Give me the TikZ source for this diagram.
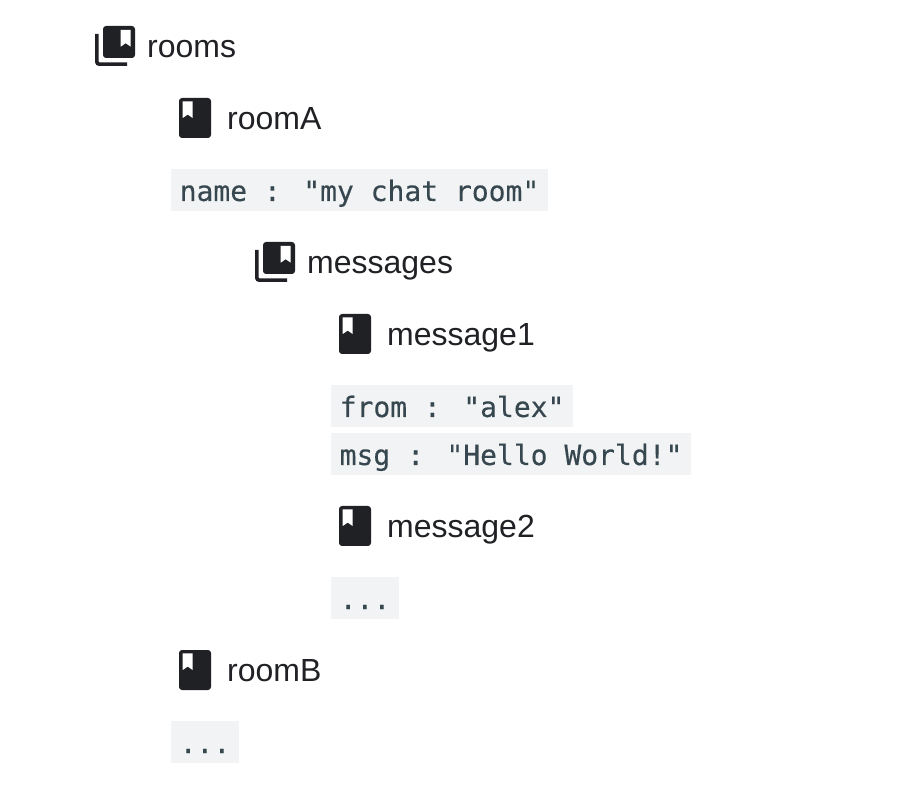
\documentclass[tikz,border=0pt]{standalone}
\usepackage{fontspec}
\setmainfont{Liberation Sans}
\newfontfamily\codefont[FakeBold=0.25]{DejaVu Sans Mono}
\definecolor{inkc}{HTML}{202124}
\definecolor{codebg}{HTML}{F1F3F4}
\definecolor{codefg}{HTML}{37474F}
\tikzset{
  label text/.style={anchor=base west,inner sep=0pt,text=inkc,font=\fontsize{32}{36}\selectfont},
  code text/.style={anchor=base west,inner xsep=8.5pt,inner ysep=0pt,text height=32pt,text depth=10pt,fill=codebg,text=codefg,font=\codefont\fontsize{28}{36}\selectfont},
  pics/docicon/.style={code={
    \fill[inkc,rounded corners=3pt] (0,0) rectangle (32,-40);
    \fill[white] (3.7,-3.4) -- (13.7,-3.4) -- (13.7,-20) -- (8.7,-16.6) -- (3.7,-20) -- cycle;
  }},
  pics/colicon/.style={code={
    \fill[inkc,rounded corners=3pt] (8,0) rectangle (40,-32);
    \fill[white] (25.7,-4) -- (35.7,-4) -- (35.7,-20.7) -- (30.7,-17.2) -- (25.7,-20.7) -- cycle;
    \draw[inkc,line width=3.6pt,rounded corners=2.5pt] (1.8,-8) -- (1.8,-38.2) -- (32,-38.2);
  }}
}
\begin{document}
\begin{tikzpicture}[x=1pt,y=1pt]
\useasboundingbox (0,0) rectangle (911,-791);
\pic at (95,-26) {colicon};
\node[label text] (rooms) at (147,-57.5) {rooms};
\pic at (179,-98) {docicon};
\node[label text] (roomA) at (227,-129.5) {roomA};
\node[code text] (name) at (171,-201) {name : "my chat room"};
\pic at (255,-242) {colicon};
\node[label text] (messages) at (307,-273.5) {messages};
\pic at (339,-314) {docicon};
\node[label text] (message1) at (387,-345.5) {message1};
\node[code text] (from) at (331,-417) {from : "alex"};
\node[code text] (msg) at (331,-465) {msg : "Hello World!"};
\pic at (339,-506) {docicon};
\node[label text] (message2) at (387,-537.5) {message2};
\node[code text] (dotsA) at (331,-609) {...};
\pic at (179,-650) {docicon};
\node[label text] (roomB) at (227,-681.5) {roomB};
\node[code text] (dotsB) at (171,-753) {...};
\end{tikzpicture}
\end{document}
